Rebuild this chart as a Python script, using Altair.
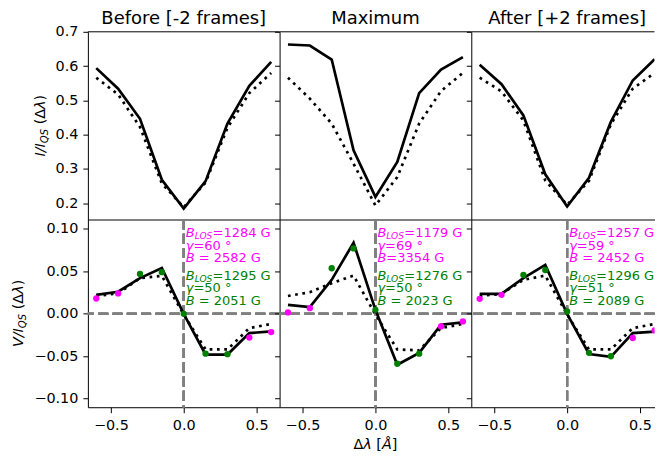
import altair as alt
import pandas as pd

# ---------------- data ----------------
dl = [-0.6, -0.45, -0.3, -0.15, 0.0, 0.15, 0.3, 0.45, 0.6]
panel_titles = ["Before [-2 frames]", "Maximum", "After [+2 frames]"]

I_obs = [
    [0.594, 0.534, 0.446, 0.268, 0.184, 0.264, 0.432, 0.542, 0.612],
    [0.663, 0.660, 0.619, 0.354, 0.218, 0.320, 0.521, 0.590, 0.626],
    [0.604, 0.547, 0.456, 0.284, 0.190, 0.274, 0.437, 0.558, 0.620],
]
I_fit = [
    [0.566, 0.517, 0.422, 0.257, 0.188, 0.260, 0.420, 0.521, 0.580],
    [0.566, 0.505, 0.432, 0.315, 0.193, 0.276, 0.432, 0.527, 0.580],
    [0.566, 0.526, 0.441, 0.266, 0.195, 0.265, 0.430, 0.534, 0.580],
]
V_obs = [
    [0.0223, 0.0260, 0.0420, 0.0540, 0.0000, -0.0480, -0.0480, -0.0227, -0.0208],
    [0.0106, 0.0080, 0.0400, 0.0837, 0.0047, -0.0600, -0.0460, -0.0129, -0.0102],
    [0.0235, 0.0235, 0.0420, 0.0575, 0.0000, -0.0473, -0.0508, -0.0227, -0.0210],
]
V_fit = [
    [0.0210, 0.0240, 0.0420, 0.0446, -0.0010, -0.0420, -0.0420, -0.0168, -0.0120],
    [0.0210, 0.0254, 0.0360, 0.0450, -0.0010, -0.0420, -0.0430, -0.0168, -0.0120],
    [0.0210, 0.0235, 0.0400, 0.0450, -0.0010, -0.0420, -0.0420, -0.0168, -0.0120],
]
V_pts = [
    [0.0180, 0.0240, 0.0470, 0.0490, 0.0000, -0.0470, -0.0475, -0.0280, -0.0215],
    [0.0016, 0.0066, 0.0536, 0.0770, 0.0047, -0.0587, -0.0470, -0.0149, -0.0090],
    [0.0176, 0.0223, 0.0457, 0.0516, 0.0027, -0.0460, -0.0500, -0.0285, -0.0196],
]
pt_colour = ["#ff00ff", "#ff00ff", "#008000", "#008000", "#008000",
             "#008000", "#008000", "#ff00ff", "#ff00ff"]

mag_blos = ["1284", "1179", "1257"]
mag_gamma = ["60", "69", "59"]
mag_b = ["= 2582", "=3354", "= 2452"]
grn_blos = ["1295", "1276", "1296"]
grn_gamma = ["50", "50", "51"]
grn_b = ["= 2051", "= 2023", "= 2089"]

x_ticks = [-0.5, 0.0, 0.5]
yI_ticks = [0.2, 0.3, 0.4, 0.5, 0.6, 0.7]
yV_ticks = [-0.10, -0.05, 0.0, 0.05, 0.10]

# ---------------- style / layout ----------------
FONT = "DejaVu Sans"
MAG, GRN = "#ff00ff", "#008000"
W_FULL = 192
W = [192, 192, 183.5]          # last panel is cut at the right edge, as in the reference
H = 188
PX_PER_UNIT = 146.0
X0 = -0.6575
YI_DOM = [0.152, 0.7]
YV_DOM = [-0.110, 0.111]
LW = 2.7
TICK_FS = 14.4
LAB_FS = 14.4
ANN_FS = 13.0
ANN_TOP, ANN_STEP, ANN_GROUP = 18.0, 12.4, 42.6

one = pd.DataFrame({"k": [0]})


def txt(s, x, y, size, italic=False, color="black", angle=0, dx=0, dy=0,
        align="left", baseline="alphabetic"):
    kw = dict(font=FONT, fontSize=size, color=color, align=align,
              baseline=baseline, dx=dx, dy=dy)
    if italic:
        kw["fontStyle"] = "italic"
    if angle:
        kw["angle"] = angle
    return alt.Chart(one).mark_text(**kw).encode(
        x=alt.value(x), y=alt.value(y), text=alt.value(s))


def ytitle_pieces(letter, letter_w, cx, cy):
    s = LAB_FS
    sub = 0.7 * s
    pieces = [
        (letter + "/I", True, s, 0, (letter_w + 0.337 + 0.295) * s),
        ("QS", True, sub, 3, (0.787 + 0.635) * sub),
        (" ", False, s, 0, 0.318 * s),
        ("(Δ", False, s, 0, (0.390 + 0.684) * s),
        ("λ", True, s, 0, 0.592 * s),
        (")", False, s, 0, 0.390 * s),
    ]
    total = sum(p[4] for p in pieces)
    out = []
    pos = 0.0
    for t, it, fs, dy, w in pieces:
        if t.strip():
            out.append(txt(t, cx, cy + total / 2, fs, italic=it, angle=270,
                           dx=pos, dy=dy))
        pos += w
    return out


def xtitle_pieces(cx, y):
    s = LAB_FS
    pieces = [
        ("Δ", False, 0.684 * s),
        ("λ", True, 0.592 * s),
        (" ", False, 0.318 * s),
        ("[", False, 0.390 * s),
        ("Å", True, 0.684 * s),
        ("]", False, 0.390 * s),
    ]
    total = sum(p[2] for p in pieces)
    out = []
    pos = cx - total / 2
    for t, it, w in pieces:
        if t.strip():
            out.append(txt(t, pos, y, s, italic=it))
        pos += w
    return out


def xscale(i):
    return alt.Scale(domain=[X0, X0 + W[i] / PX_PER_UNIT], nice=False, zero=False)


def top_panel(i):
    df = pd.DataFrame({"dl": dl, "obs": I_obs[i], "fit": I_fit[i]})
    xs = xscale(i)
    ys = alt.Scale(domain=YI_DOM, nice=False, zero=False)
    xax = alt.Axis(labels=False, ticks=False, domain=True, title=None, grid=False)
    yax = alt.Axis(values=yI_ticks, format=".1f", labels=(i == 0), ticks=True,
                   tickSize=5, labelPadding=5, domain=True, title=None, grid=False)
    base = alt.Chart(df)
    fit = base.mark_line(color="black", strokeWidth=LW, strokeDash=[2.7, 4.6], clip=True).encode(
        x=alt.X("dl:Q", scale=xs, axis=xax), y=alt.Y("fit:Q", scale=ys, axis=yax))
    obs = base.mark_line(color="black", strokeWidth=LW, clip=True).encode(
        x=alt.X("dl:Q", scale=xs, axis=xax), y=alt.Y("obs:Q", scale=ys, axis=yax))
    frame = alt.Chart(one).mark_rule(color="black", strokeWidth=1).encode(
        x=alt.value(0), x2=alt.value(W[i]), y=alt.value(0))
    layers = [fit, obs, frame, txt(panel_titles[i], W_FULL / 2, -7.5, 18, align="center")]
    if i == 0:
        layers += ytitle_pieces("I", 0.295, -43, H / 2)
    return alt.layer(*layers).properties(width=W[i], height=H)


def ann_df(i):
    rows = []
    groups = [(MAG, mag_blos[i], mag_gamma[i], mag_b[i]),
              (GRN, grn_blos[i], grn_gamma[i], grn_b[i])]
    for g, (col, blos, gam, b) in enumerate(groups):
        y0 = ANN_TOP + g * ANN_GROUP
        rows.append(dict(ypix=y0, main="B", kind="blos", rest="=" + blos + " G", color=col))
        rows.append(dict(ypix=y0 + ANN_STEP, main="γ", kind="gamma", rest="=" + gam + " °", color=col))
        kind = "bsp" if b.startswith("= ") else "b"
        rows.append(dict(ypix=y0 + 2 * ANN_STEP, main="B", kind=kind,
                         rest=b.strip() + " G", color=col))
    df = pd.DataFrame(rows)
    df["x0"] = 0.0
    return df


def bottom_panel(i):
    df = pd.DataFrame({"dl": dl, "obs": V_obs[i], "fit": V_fit[i],
                       "pts": V_pts[i], "col": pt_colour})
    xs = xscale(i)
    ys = alt.Scale(domain=YV_DOM, nice=False, zero=False)
    xax = alt.Axis(values=x_ticks, format=".1f", labels=True, ticks=True, tickSize=5.5,
                   labelPadding=6, domain=True, title=None, grid=False, labelFlush=False)
    yax = alt.Axis(values=yV_ticks, format=".2f", labels=(i == 0), ticks=True,
                   tickSize=5, labelPadding=5, domain=True, title=None, grid=False)
    base = alt.Chart(df)
    X = alt.X("dl:Q", scale=xs, axis=xax)
    hline = base.mark_rule(color="#808080", strokeWidth=2, strokeDash=[10, 4.3]).encode(
        y=alt.Y(datum=0, scale=ys, axis=yax))
    vline = base.mark_rule(color="#808080", strokeWidth=2, strokeDash=[10, 4.3]).encode(
        x=alt.X(datum=0, scale=xs, axis=xax))
    fit = base.mark_line(color="black", strokeWidth=LW, strokeDash=[2.7, 4.6], clip=True).encode(
        x=X, y=alt.Y("fit:Q", scale=ys, axis=yax))
    obs = base.mark_line(color="black", strokeWidth=LW, clip=True).encode(
        x=X, y=alt.Y("obs:Q", scale=ys, axis=yax))
    pts = base.mark_circle(size=40, opacity=1, clip=True).encode(
        x=X, y=alt.Y("pts:Q", scale=ys, axis=yax), color=alt.Color("col:N", scale=None))

    adf = alt.Chart(ann_df(i))
    AX = alt.X("x0:Q", scale=xs, axis=xax)
    AY = alt.Y("ypix:Q", scale=None)
    C = alt.Color("color:N", scale=None)
    d0 = 2.0
    bw = 0.686 * ANN_FS
    gw = 0.592 * ANN_FS
    sp = 0.318 * ANN_FS
    subfs = 0.7 * ANN_FS
    losw = (0.557 + 0.787 + 0.635) * subfs

    def ann_mark(text_enc, kinds, dx, size, italic, dy=0):
        kw = dict(font=FONT, fontSize=size, align="left", baseline="alphabetic", dx=dx, dy=dy)
        if italic:
            kw["fontStyle"] = "italic"
        cond = " || ".join("datum.kind == '%s'" % k for k in kinds)
        return adf.transform_filter(cond).mark_text(**kw).encode(
            x=AX, y=AY, color=C, text=text_enc)

    anns = [
        ann_mark(alt.Text("main:N"), ["blos", "gamma", "b", "bsp"], d0, ANN_FS, True),
        ann_mark(alt.value("LOS"), ["blos"], d0 + bw, subfs, True, dy=2),
        ann_mark(alt.Text("rest:N"), ["blos"], d0 + bw + losw, ANN_FS, False),
        ann_mark(alt.Text("rest:N"), ["gamma"], d0 + gw, ANN_FS, False),
        ann_mark(alt.Text("rest:N"), ["b"], d0 + bw, ANN_FS, False),
        ann_mark(alt.Text("rest:N"), ["bsp"], d0 + bw + sp, ANN_FS, False),
    ]
    layers = [hline, vline, fit, obs, pts] + anns
    if i == 0:
        layers += ytitle_pieces("V", 0.684, -64.5, H / 2)
    if i == 1:
        layers += xtitle_pieces(W[i] / 2, H + 42)
    return alt.layer(*layers).properties(width=W[i], height=H)


panels = [top_panel(i) for i in range(3)] + [bottom_panel(i) for i in range(3)]

chart = alt.concat(*panels, columns=3, spacing=0).properties(
    bounds="flush",
    padding={"left": 3, "top": 1.5, "right": 0, "bottom": -1},
).configure_view(stroke=None).configure_axis(
    domainColor="black", domainWidth=1, tickColor="black", tickWidth=1,
    labelColor="black", labelFont=FONT, labelFontSize=TICK_FS,
)

chart.save("out.html", embed_options={"renderer": "svg", "actions": False})
